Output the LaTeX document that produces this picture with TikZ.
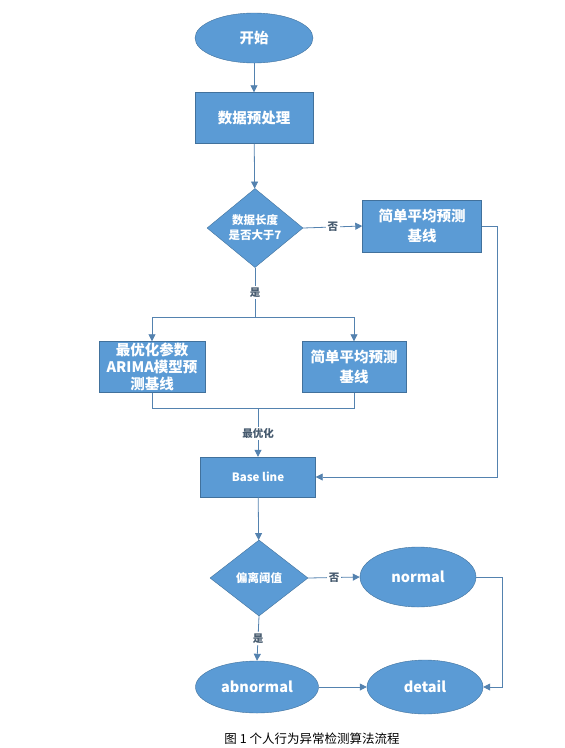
\documentclass[tikz,border=0pt]{standalone}
\usepackage{fontspec}
\setmainfont{Noto Sans CJK SC}
\definecolor{flowblue}{RGB}{91, 155, 213}
\definecolor{flowedge}{RGB}{65, 113, 156}
\definecolor{flowline}{RGB}{84, 130, 175}
\definecolor{flowtext}{RGB}{70, 90, 110}
\usetikzlibrary{shapes.geometric, arrows.meta, positioning, calc}
\tikzset{
  startnode/.style={ellipse, draw=flowedge, fill=flowblue, text=white, font=\bfseries\fontsize{14.5}{17}\selectfont, inner sep=0pt},
  procbox/.style={rectangle, draw=flowedge, fill=flowblue, text=white, font=\bfseries\fontsize{14.5}{17}\selectfont, align=center, inner sep=0pt},
  decbox/.style={diamond, draw=flowedge, fill=flowblue, text=white, font=\bfseries\fontsize{11.5}{15}\selectfont, align=center, inner sep=0pt},
  flowarrow/.style={flowline, thick, -{Triangle[length=7pt, width=7pt]}},
  flowplain/.style={flowline, thick},
  choice/.style={fill=white, text=flowtext, font=\bfseries\fontsize{10.5}{12}\selectfont, inner sep=1.5pt}
}

\begin{document}
\begin{tikzpicture}[x=1pt, y=-1pt]
        \useasboundingbox (0,0) rectangle (565,748);

        % Main column
        \node[startnode, minimum width=118pt, minimum height=50pt] (start) at (254, 38) {开始};
        \node[procbox, minimum width=118pt, minimum height=51pt] (prep) at (254, 118) {数据预处理};
        \node[decbox, minimum width=96pt, minimum height=78pt] (lencheck) at (255, 228) {数据长度\\是否大于7};

        % Short series branch
        \node[procbox, minimum width=119pt, minimum height=52pt, font=\bfseries\fontsize{14.5}{20}\selectfont] (avgtop) at (422, 226) {简单平均预测\\基线};

        % Long series branch
        \node[procbox, minimum width=106pt, minimum height=51pt] (arima) at (152, 367) {最优化参数\\ARIMA模型预\\测基线};
        \node[procbox, minimum width=104pt, minimum height=51pt, font=\bfseries\fontsize{14.5}{20}\selectfont] (avgleft) at (354, 367) {简单平均预测\\基线};

        % Baseline and threshold
        \node[procbox, minimum width=115pt, minimum height=40pt, font=\bfseries\fontsize{11.5}{13}\selectfont] (base) at (258, 477) {Base line};
        \node[decbox, minimum width=98pt, minimum height=76pt] (dev) at (259, 578) {偏离阈值};

        % Results
        \node[startnode, minimum width=116pt, minimum height=60pt] (normal) at (418, 577) {normal};
        \node[startnode, minimum width=123pt, minimum height=52pt] (abnormal) at (257, 687) {abnormal};
        \node[startnode, minimum width=116pt, minimum height=54pt] (detail) at (425, 687) {detail};

        % Helper coordinates
        \coordinate (split) at (255, 317);
        \coordinate (join) at (258, 408);
        \coordinate (rgt) at (497, 0);
        \coordinate (rgtlow) at (502, 0);

        % Connectors
        \draw[flowarrow] (start) -- (prep);
        \draw[flowarrow] (prep) -- (lencheck);
        \draw[flowarrow] (lencheck.east) -- node[choice, pos=0.5] {否} (avgtop.west);
        \draw[flowarrow] (avgtop.east) -| (rgt |- base.east) -- (base.east);
        \draw[flowplain] (lencheck.south) -- node[choice, pos=0.5] {是} (split);
        \draw[flowarrow] (split) -| (arima.north);
        \draw[flowarrow] (split) -| (avgleft.north);
        \draw[flowplain] (arima.south) |- (join);
        \draw[flowplain] (avgleft.south) |- (join);
        \draw[flowarrow] (join) -- node[choice, pos=0.52] {最优化} (base.north);
        \draw[flowarrow] (base) -- (dev);
        \draw[flowarrow] (dev.east) -- node[choice, pos=0.5] {否} (normal.west);
        \draw[flowarrow] (dev.south) -- node[choice, pos=0.5] {是} (abnormal.north);
        \draw[flowarrow] (abnormal.east) -- (detail.west);
        \draw[flowarrow] (normal.east) -| (rgtlow |- detail.east) -- (detail.east);

        % Caption
        \node[font=\fontsize{12.5}{14}\selectfont, text=black] (caption) at (312, 739) {图 1 个人行为异常检测算法流程};
      \end{tikzpicture}
\end{document}
